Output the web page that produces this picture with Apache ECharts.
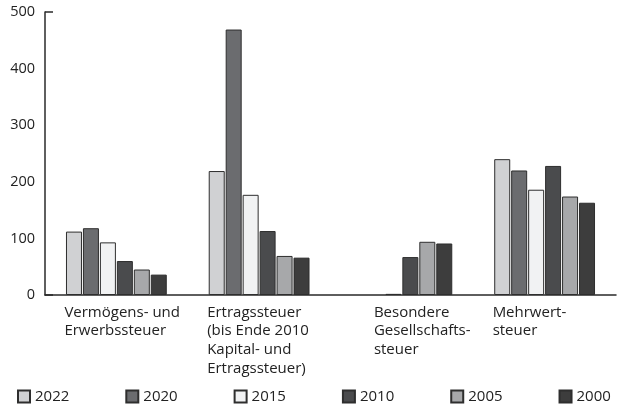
<!DOCTYPE html>
<html>
<head>
<meta charset="utf-8">
<script src="https://cdn.jsdelivr.net/npm/echarts@6/dist/echarts.min.js"></script>
<style>
  html, body { margin: 0; padding: 0; background: #fff; }
  #chart { width: 621px; height: 409px; }
</style>
</head>
<body>
<div id="chart"></div>
<script>
const categories = [
  'Vermögens- und\nErwerbssteuer',
  'Ertragssteuer\n(bis Ende 2010\nKapital- und\nErtragssteuer)',
  'Besondere\nGesellschafts-\nsteuer',
  'Mehrwert-\nsteuer'
]
const years = ['2022', '2020', '2015', '2010', '2005', '2000']
const values2022 = [112, 219, null, 240]
const values2020 = [118, 469, null, 220]
const values2015 = [93, 177, 2, 186]
const values2010 = [60, 113, 67, 228]
const values2005 = [45, 69, 94, 174]
const values2000 = [36, 66, 91, 163]
const yTicks = [0, 500, 100]

const colors = ['#d0d1d3', '#6b6c6f', '#f1f2f3', '#4a4b4d', '#a7a8aa', '#3d3d3d']
const allValues = [values2022, values2020, values2015, values2010, values2005, values2000]

const chart = echarts.init(document.getElementById('chart'))
const font = '"Open Sans", "Noto Sans", sans-serif'

chart.setOption({
  animation: false,
  textStyle: { fontFamily: font },
  grid: { left: 45, right: 5, top: 12, bottom: 114 },
  legend: {
    data: years,
    left: 17,
    width: 604,
    top: 389,
    padding: 0,
    itemWidth: 12,
    itemHeight: 12,
    itemGap: 56,
    icon: 'rect',
    textStyle: { fontSize: 15, color: '#222', fontFamily: font }
  },
  xAxis: {
    type: 'category',
    data: categories,
    axisLine: { lineStyle: { color: '#2a2a2a', width: 1.5 } },
    axisTick: { inside: true, length: 6, lineStyle: { color: '#2a2a2a' } },
    axisLabel: {
      interval: 0,
      margin: 8,
      align: 'center',
      width: 104,
      formatter: (value, index) => {
        const key = index === 2 ? 'b' : 'a'
        return value.split('\n').map(l => '{' + key + '|' + l + '}').join('\n')
      },
      rich: {
        a: { align: 'left', fontSize: 15, lineHeight: 18.7, color: '#222', fontFamily: font },
        b: { align: 'left', fontSize: 15, lineHeight: 18.7, color: '#222', fontFamily: font, padding: [0, 0, 0, 24] }
      }
    }
  },
  yAxis: [
    {
      type: 'value',
      min: yTicks[0],
      max: yTicks[1],
      interval: yTicks[2],
      axisLine: { show: true, lineStyle: { color: '#2a2a2a', width: 1.5 } },
      axisTick: { show: false },
      splitLine: { show: false },
      axisLabel: { fontSize: 14.5, color: '#222', margin: 10, fontFamily: font }
    },
    {
      type: 'value',
      position: 'left',
      min: yTicks[0],
      max: yTicks[1],
      interval: yTicks[1],
      axisLine: { show: false },
      axisTick: { show: true, inside: true, length: 8, lineStyle: { color: '#2a2a2a', width: 1.5 } },
      splitLine: { show: false },
      axisLabel: { show: false }
    }
  ],
  series: years.map((y, i) => ({
    name: y,
    type: 'bar',
    data: allValues[i],
    barWidth: 16,
    barGap: '6%',
    itemStyle: { color: colors[i], borderColor: '#2e2e2e', borderWidth: 1 }
  }))
})
</script>
</body>
</html>
